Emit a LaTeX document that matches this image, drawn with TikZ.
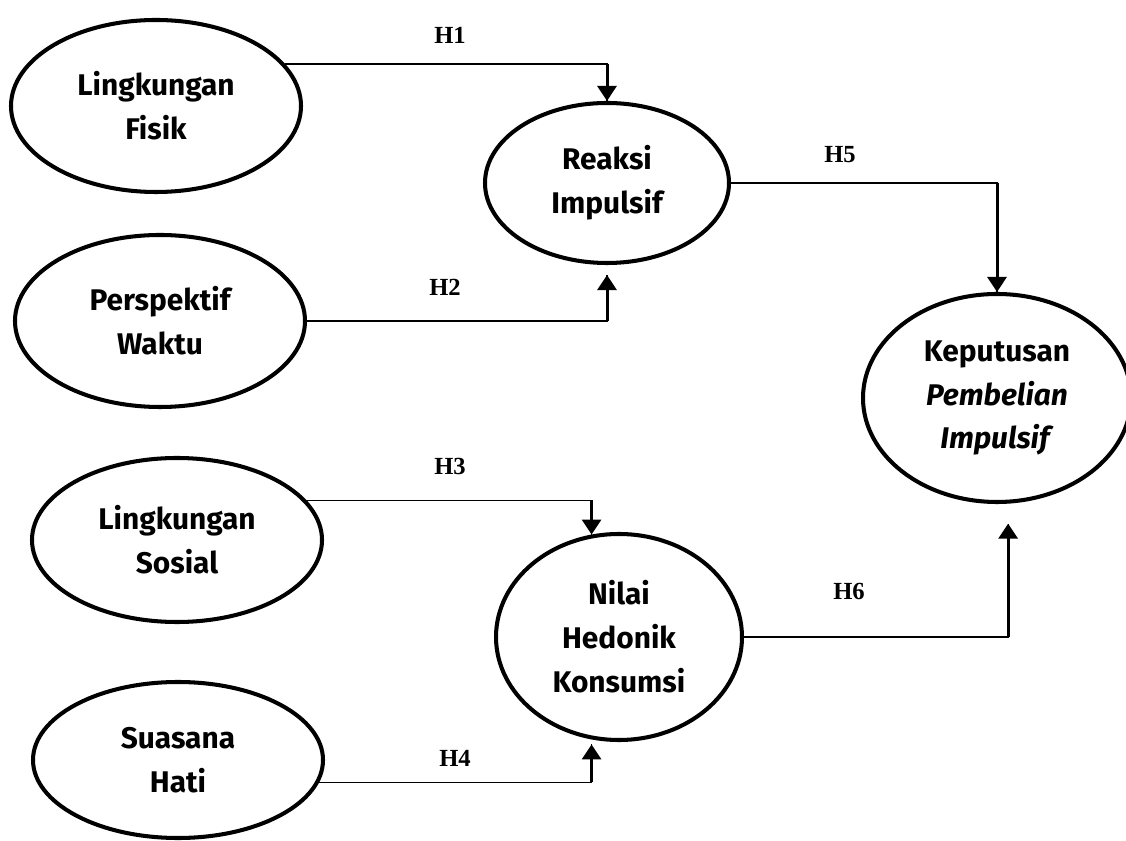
\documentclass[tikz,border=0pt]{standalone}
\usepackage{fontspec}
\setmainfont{Liberation Serif}
\newfontfamily\varfont{Fira Sans}
\usepackage{tikz}
\usetikzlibrary{shapes.geometric,arrows.meta,positioning}
\tikzstyle{construct} = [ellipse, draw=black, line width=2.3pt, inner sep=0pt, align=center, font=\varfont\bfseries\fontsize{17}{25}\selectfont]
\tikzstyle{thinline} = [line width=0.6pt]
\tikzstyle{arrow} = [line width=1.7pt, -{Triangle[width=0.38cm,length=0.3cm]}]
\tikzstyle{hyp} = [font=\bfseries\fontsize{14}{16}\selectfont]

\begin{document}
\begin{tikzpicture}
	\useasboundingbox (0,0) rectangle (22.52,16.8);
	\coordinate (fisik) at (3.12,14.68);
	\coordinate (waktu) at (3.2,10.38);
	\coordinate (sosial) at (3.54,6.0);
	\coordinate (hati) at (3.56,1.6);
	\coordinate (reaksi) at (12.14,13.14);
	\coordinate (nilai) at (12.38,4.06);
	\coordinate (keputusan) at (19.94,8.84);
	% Exogenous constructs
	\begin{scope}[every node/.style={construct, minimum width=5.8cm}]
	\node[name=fisik, minimum height=3.44cm] at (fisik) {Lingkungan\\Fisik};
	\node[name=waktu, minimum height=3.44cm] at (waktu) {Perspektif\\Waktu};
	\node[name=sosial, minimum height=3.28cm] at (sosial) {Lingkungan\\Sosial};
	\node[name=hati, minimum height=3.12cm] at (hati) {Suasana\\Hati};
	\end{scope}
	% Mediating constructs
	\begin{scope}[every node/.style={construct}]
	\node[name=reaksi, minimum width=4.88cm, minimum height=3.2cm] at (reaksi) {Reaksi\\Impulsif};
	\node[name=nilai, minimum width=4.92cm, minimum height=4.12cm] at (nilai) {Nilai\\Hedonik\\Konsumsi};
	% Dependent construct
	\node[name=keputusan, minimum width=5.36cm, minimum height=4.16cm] at (keputusan) {Keputusan\\\textit{Pembelian}\\\textit{Impulsif}};
	\end{scope}
	% Paths
	\draw [thinline] (fisik.18) -| (reaksi.north);
	\draw [arrow] (fisik.18 -| reaksi.north) -- (reaksi.north);
	\draw [thinline, shorten >=0.2cm] (waktu.east) -| (reaksi.south);
	\draw [arrow, shorten >=0.2cm] (waktu.east -| reaksi.south) -- (reaksi.south);
	\draw [thinline] (reaksi.east) -| (keputusan.north);
	\draw [arrow] (reaksi.east -| keputusan.north) -- (keputusan.north);
	\draw [thinline] (sosial.17) -| (nilai.105);
	\draw [arrow] (sosial.17 -| nilai.105) -- (nilai.105);
	\draw [thinline, shorten >=0.1cm] (hati.-9) -| (nilai.255);
	\draw [arrow, shorten >=0.1cm] (hati.-9 -| nilai.255) -- (nilai.255);
	\draw [thinline, shorten >=0.4cm] (nilai.east) -| (keputusan.-84);
	\draw [arrow, shorten >=0.4cm] (nilai.east -| keputusan.-84) -- (keputusan.-84);
	% Hypotheses
	\node[hyp, name=h1] at (9.0,16.1) {H1};
	\node[hyp, name=h2] at (8.9,11.06) {H2};
	\node[hyp, name=h3] at (9.0,7.48) {H3};
	\node[hyp, name=h4] at (9.1,1.64) {H4};
	\node[hyp, name=h5] at (16.8,13.7) {H5};
	\node[hyp, name=h6] at (16.98,4.98) {H6};
\end{tikzpicture}
\end{document}
